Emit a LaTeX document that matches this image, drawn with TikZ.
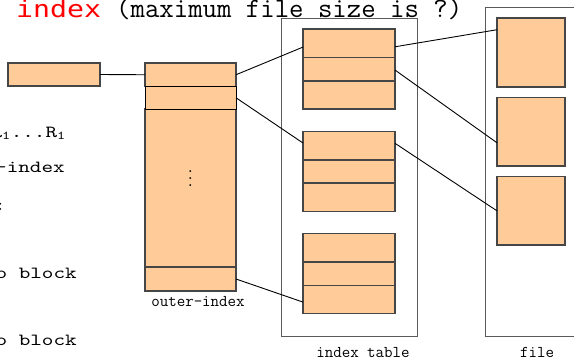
\documentclass[tikz,border=0pt]{standalone}
\usepackage{fontspec}
\newfontfamily\redmono[FakeStretch=1.2]{DejaVu Sans Mono}
\newfontfamily\leftmono[FakeStretch=1.3]{lmmono10-regular.otf}
\usetikzlibrary{calc}
\definecolor{peach}{RGB}{255,204,153}
\definecolor{boxline}{RGB}{70,70,70}
\definecolor{frameline}{RGB}{90,90,90}
\tikzset{
  cell/.style={draw=boxline, fill=peach, line width=1.1pt, rectangle, inner sep=0pt, outer sep=0pt, minimum width=#1},
  cell/.default=92pt,
  frame/.style={draw=frameline, line width=1pt, rectangle, inner sep=0pt, outer sep=0pt},
  link/.style={draw=black, line width=0.9pt},
  lefttxt/.style={font=\leftmono\fontsize{17}{17}\selectfont, anchor=base east, inner sep=0pt},
  lbl/.style={font=\ttfamily\fontsize{16.5}{16.5}\selectfont, anchor=base, inner sep=0pt}
}
\begin{document}
\begin{tikzpicture}[x=1pt,y=-1pt]
\useasboundingbox (0,0) rectangle (574,359);
\clip (0,0) rectangle (574,359);
\fill[white] (0,0) rectangle (574,359);

% title
\node[anchor=base west, inner sep=0pt, text=red, font=\redmono\fontsize{23.5}{23.5}\selectfont] (title) at (16,17) {index};
\node[anchor=base west, inner sep=0pt, font=\ttfamily\fontsize{28}{28}\selectfont] (subtitle) at (116,17) {(maximum file size is ?)};

% left texts (clipped)
\node[lefttxt] (t1) at (66,137) {R\textsubscript{1}...R\textsubscript{1}};
\node[lefttxt] (t2) at (65,172) {-index};
\node[lefttxt] (t3) at (6,210) {:};
\node[lefttxt] (t4) at (77,278) {to block};
\node[lefttxt] (t5) at (77,345) {to block};

% frames
\node[frame, minimum width=136pt, minimum height=318pt] (itab) at (349,177) {};
\node[frame, minimum width=120pt, minimum height=329pt] (ffile) at (545,171.5) {};

% small block
\node[cell=92pt, minimum height=23pt] (sb) at (54,74.5) {};

% outer index
\node[cell=91pt, minimum height=158pt] (oc3) at (190.5,188) {};
\node[cell=91pt, minimum height=23.5pt] (oc1) at (190.5,74.75) {};
\node[cell=91pt, minimum height=22.5pt, draw=black, line width=1pt] (oc2) at (190.5,97.75) {};
\node[cell=91pt, minimum height=24pt] (oc4) at (190.5,279) {};
\node[inner sep=0pt, align=center, font=\bfseries\fontsize{13}{7}\selectfont] (dots) at (190.5,179) {.\\.\\.};
\node[lbl] (olbl) at (198,306) {outer-index};

% index table blocks
\node[cell, minimum height=28.7pt] (b1a) at (349,43.35) {};
\node[cell, minimum height=23.3pt] (b1b) at (349,69.35) {};
\node[cell, minimum height=28pt] (b1c) at (349,95) {};
\node[cell, minimum height=28.3pt] (b2a) at (349,145.85) {};
\node[cell, minimum height=23pt] (b2b) at (349,171.5) {};
\node[cell, minimum height=28.7pt] (b2c) at (349,197.35) {};
\node[cell, minimum height=28.7pt] (b3a) at (349,247.65) {};
\node[cell, minimum height=23.3pt] (b3b) at (349,273.65) {};
\node[cell, minimum height=28pt] (b3c) at (349,299.3) {};
\node[lbl] (ilbl) at (363,357) {index table};

% file blocks
\node[cell=68pt, minimum height=69pt] (fA) at (531,52.5) {};
\node[cell=68pt, minimum height=68.3pt] (fB) at (531,131.85) {};
\node[cell=68pt, minimum height=68.3pt] (fC) at (531,210.85) {};
\node[lbl] (flbl) at (537,357) {file};

% connectors
\draw[link] (sb.east) -- (oc1.west);
\draw[link] (oc1.east) -- ($(b1a.north west)!0.63!(b1a.south west)$);
\draw[link] (oc2.east) -- ($(b2a.north west)!0.40!(b2a.south west)$);
\draw[link] (oc4.east) -- ($(b3c.north west)!0.60!(b3c.south west)$);
\draw[link] ($(b1a.north east)!0.62!(b1a.south east)$) -- ($(fA.north west)!0.17!(fA.south west)$);
\draw[link] ($(b1b.north east)!0.53!(b1b.south east)$) -- ($(fB.north west)!0.66!(fB.south west)$);
\draw[link] ($(b2a.north east)!0.41!(b2a.south east)$) -- ($(fC.north west)!0.50!(fC.south west)$);
\end{tikzpicture}
\end{document}
